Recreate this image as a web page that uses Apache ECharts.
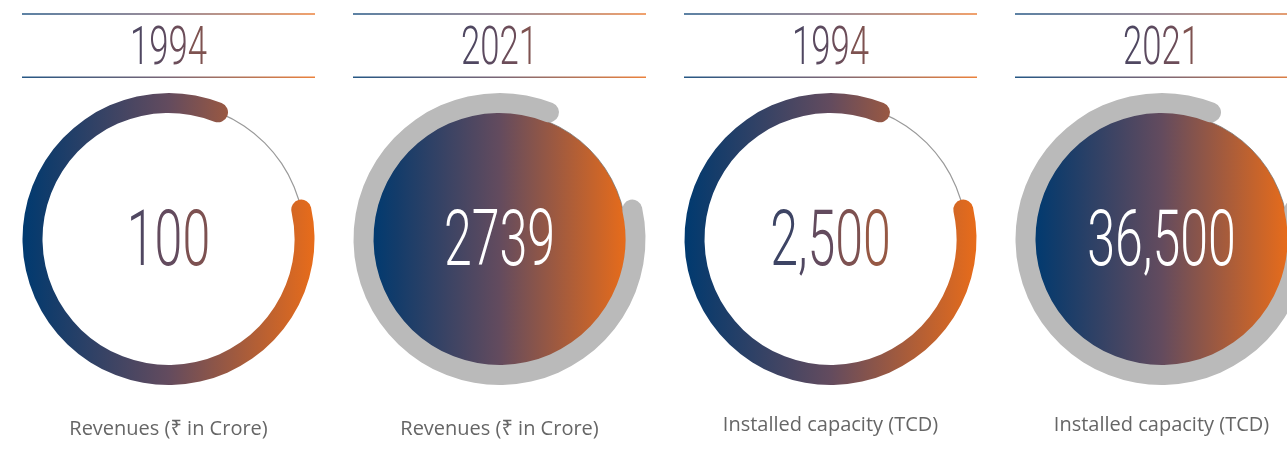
<!DOCTYPE html>
<html>
<head>
<meta charset="utf-8">
<script src="https://cdn.jsdelivr.net/npm/echarts@6/dist/echarts.min.js"></script>
<style>
  html, body { margin: 0; padding: 0; background: #fff; }
  #main { width: 1287px; height: 473px; }
</style>
</head>
<body>
<div id="main"></div>
<script>
// 数据
const years = ['1994', '2021', '1994', '2021'];
const values = [100, 2739, 2500, 36500];
const valueLabels = ['100', '2739', '2,500', '36,500'];
const metrics = ['Revenues (₹ in Crore)', 'Revenues (₹ in Crore)', 'Installed capacity (TCD)', 'Installed capacity (TCD)'];
// share of each ring that is drawn (percent)
const ringShare = [84.4, 84.4, 84.4, 84.4];

const centersX = [168.5, 499.5, 830.5, 1161.5];
const cy = 239;
const R = 146;
const ringW = 20;
const startAng = 12.5;

const stops = [[0, [0, 58, 112]], [0.1, [20, 60, 106]], [0.5, [99, 75, 94]], [1, [232, 108, 26]]];

let colorAt = (f) => {
    f = Math.max(0, Math.min(1, f));
    for (let i = 1; i < stops.length; i++) {
        if (f <= stops[i][0]) {
            let a = stops[i - 1], b = stops[i];
            let t = (f - a[0]) / (b[0] - a[0]);
            let c = a[1].map((v, k) => Math.round(v + (b[1][k] - v) * t));
            return 'rgb(' + c.join(',') + ')';
        }
    }
    return 'rgb(232,108,26)';
};

let mainGrad = () => new echarts.graphic.LinearGradient(0, 0, 1, 0,
    stops.map(s => ({ offset: s[0], color: 'rgb(' + s[1].join(',') + ')' })));

// colour each character by where it sits across the panel
let gradText = (str, charW, font, solid) => {
    let rich = {};
    let parts = [];
    let total = str.length * charW;
    str.split('').forEach((ch, k) => {
        let px = -total / 2 + (k + 0.5) * charW;
        rich['c' + k] = { fill: solid || colorAt(0.5 + px / (2 * R)), font: font };
        parts.push('{c' + k + '|' + ch + '}');
    });
    return { text: parts.join(''), rich: rich };
};

let myChart = echarts.init(document.getElementById('main'));

let series = [];
let graphic = [];

years.forEach((year, i) => {
    let cx = centersX[i];
    let filled = i % 2 === 1;
    if (!filled) {
        // thin guide circle
        series.push({
            type: 'gauge',
            center: [cx, cy],
            radius: R - ringW / 2 + 0.6,
            startAngle: 90, endAngle: -270,
            axisLine: { show: true, lineStyle: { width: 1.2, color: [[1, '#9a9a9a']] } },
            progress: { show: false },
            pointer: { show: false }, axisTick: { show: false }, splitLine: { show: false },
            axisLabel: { show: false }, title: { show: false }, detail: { show: false },
            silent: true,
            data: [{ value: 0 }]
        });
    }
    series.push({
        type: 'gauge',
        center: [cx, cy],
        radius: R,
        startAngle: startAng,
        endAngle: startAng - 360,
        min: 0,
        max: 100,
        axisLine: { show: false },
        progress: {
            show: true,
            roundCap: true,
            width: ringW,
            itemStyle: { color: filled ? '#bababa' : mainGrad() }
        },
        anchor: {
            show: filled,
            showAbove: false,
            size: 2 * (R - ringW) + 2,
            itemStyle: { color: mainGrad(), borderColor: 'rgba(110,110,110,0.7)', borderWidth: 1 }
        },
        pointer: { show: false }, axisTick: { show: false }, splitLine: { show: false },
        axisLabel: { show: false }, title: { show: false }, detail: { show: false },
        silent: true,
        data: [{ value: ringShare[i], name: year }]
    });

    // rules above and below the year
    [13.3, 76.5].forEach(y => {
        graphic.push({
            type: 'rect',
            z: 10,
            shape: { x: cx - R - 0.5, y: y, width: 2 * R + 1, height: 1.5 },
            style: { fill: mainGrad(), opacity: 0.85 },
            silent: true
        });
    });

    let yearFont = '300 53px Roboto';
    let yt = gradText(year, 19.5, yearFont);
    graphic.push({
        type: 'text',
        z: 10,
        x: cx, y: 51,
        scaleX: 0.655,
        style: {
            text: yt.text, rich: yt.rich,
            font: yearFont,
            align: 'center',
            verticalAlign: 'middle'
        },
        silent: true
    });

    let numFont = '300 77px Roboto';
    let nt = gradText(valueLabels[i], 28, numFont, filled ? '#ffffff' : null);
    graphic.push({
        type: 'text',
        z: 10,
        x: cx, y: 246,
        scaleX: 0.65,
        style: {
            text: nt.text, rich: nt.rich,
            font: numFont,
            align: 'center',
            verticalAlign: 'middle'
        },
        silent: true
    });

    graphic.push({
        type: 'text',
        z: 10,
        x: cx, y: i < 2 ? 429 : 425,
        style: {
            text: metrics[i],
            font: '20px "Open Sans", "Noto Sans", sans-serif',
            fill: '#666666',
            align: 'center',
            verticalAlign: 'middle'
        },
        silent: true
    });
});

myChart.setOption({
    animation: false,
    series: series,
    graphic: graphic
});
</script>
</body>
</html>
